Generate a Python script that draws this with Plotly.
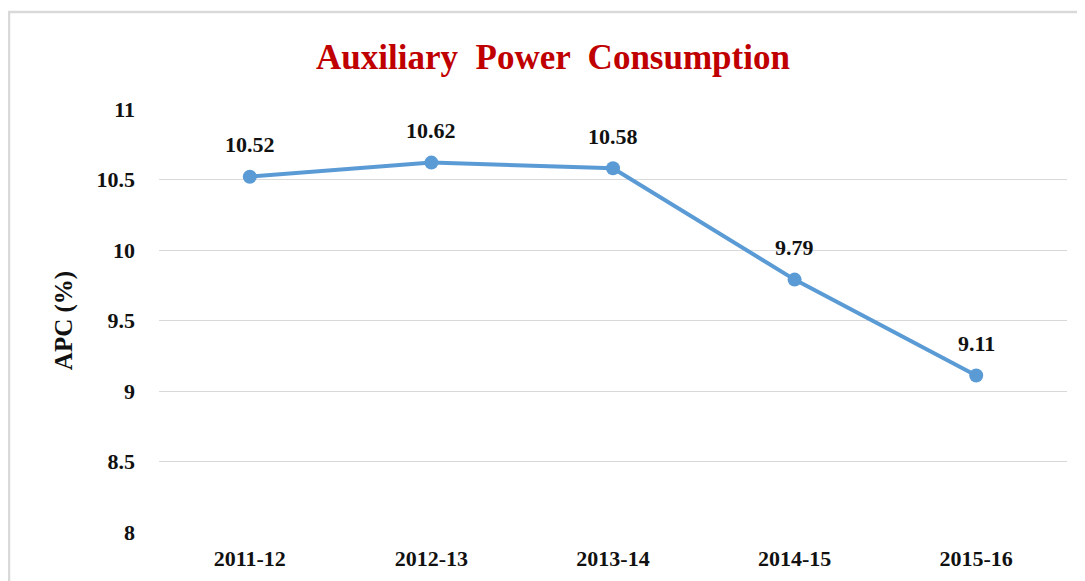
import plotly.graph_objects as go

years = ["2011-12", "2012-13", "2013-14", "2014-15", "2015-16"]
apc = [10.52, 10.62, 10.58, 9.79, 9.11]
y_ticks = [8, 8.5, 9, 9.5, 10, 10.5, 11]
y_tick_labels = ["8", "8.5", "9", "9.5", "10", "10.5", "11"]

# page body has an 8px default margin, so the figure is laid out 8px smaller
W, H = 1077, 573
L, R, T, B = 151, 18, 101, 49
pw, ph = W - L - R, H - T - B
SERIF = "Liberation Serif, Times New Roman, serif"

fig = go.Figure()
fig.add_trace(go.Scatter(
    x=years, y=apc, mode="lines+markers",
    line=dict(color="#5B9BD5", width=4),
    marker=dict(color="#5B9BD5", size=14),
    hoverinfo="skip", showlegend=False,
))

for xv, yv in zip(years, apc):
    fig.add_annotation(x=xv, y=yv, xref="x", yref="y", text=f"<b>{yv:.2f}</b>", showarrow=False,
                       yshift=32, font=dict(family=SERIF, size=22, color="#111111"))

fig.add_shape(type="rect", xref="paper", yref="paper",
              x0=(1 - L) / pw, x1=(1090 - L) / pw,
              y0=1 - (590 - T) / ph, y1=1 + (T - 4) / ph,
              line=dict(color="#D9D9D9", width=2.5), fillcolor="rgba(0,0,0,0)", layer="below")

fig.update_layout(
    width=W, height=H,
    margin=dict(l=L, r=R, t=T, b=B, autoexpand=False),
    paper_bgcolor="white", plot_bgcolor="white",
    title=dict(text="<b>Auxiliary  Power  Consumption</b>", x=545 / W, xanchor="center",
               y=1 - 49 / H, yanchor="middle",
               font=dict(family=SERIF, size=35, color="#C00000")),
    font=dict(family=SERIF, color="#111111"),
)
fig.update_xaxes(type="category", range=[-0.5, 4.5], showgrid=False, showline=False, zeroline=False,
                 automargin=False,
                 tickfont=dict(family=SERIF, size=22, color="#111111"),
                 tickprefix="<b>", ticksuffix="</b>", ticklabelstandoff=11)
fig.update_yaxes(range=[8, 11], tickvals=y_ticks, ticktext=[f"<b>{t}</b>" for t in y_tick_labels],
                 showgrid=True, gridcolor="#D9D9D9", gridwidth=1, zeroline=False, showline=False,
                 automargin=False,
                 tickfont=dict(family=SERIF, size=22, color="#111111"),
                 ticklabelstandoff=23,
                 title=dict(text="<b>APC (%)</b>", standoff=16,
                            font=dict(family=SERIF, size=25, color="#111111")))

fig.write_html("out.html")
